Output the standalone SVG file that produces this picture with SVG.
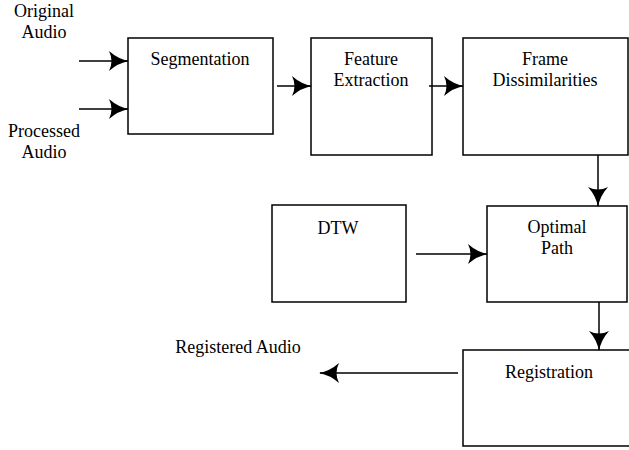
<svg xmlns="http://www.w3.org/2000/svg" width="629" height="450" viewBox="0 0 629 450">
<style>
.box{fill:#fff;stroke:#000;stroke-width:1.5}
.t{font-family:'Liberation Serif','Times New Roman',Tinos,'DejaVu Serif',serif;font-size:18px;fill:#000;text-anchor:middle}
.c{stroke:#000;stroke-width:1.5;fill:none;marker-end:url(#ah)}
</style>
<defs>
<marker id="ah" viewBox="0 0 20 20" refX="19" refY="10" markerWidth="20" markerHeight="20" markerUnits="userSpaceOnUse" orient="auto">
<path d="M0,0 Q9,8 20,10 Q9,12 0,20 Q5,10 0,0 Z" fill="#000"/>
</marker>
</defs>
<rect width="629" height="450" fill="#fff"/>
<g id="labels" font-family="Liberation Serif, serif">
<text class="t" x="44" y="17">Original</text>
<text class="t" x="44" y="38">Audio</text>
<text class="t" x="44" y="137">Processed</text>
<text class="t" x="44" y="158">Audio</text>
<text class="t" x="238" y="353">Registered Audio</text>
</g>
<g id="segmentation">
<rect class="box" x="128" y="38" width="145" height="96"/>
<text class="t" x="200" y="65">Segmentation</text>
</g>
<g id="feature">
<rect class="box" x="311" y="38" width="121" height="117"/>
<text class="t" x="371" y="65">Feature</text>
<text class="t" x="371" y="86">Extraction</text>
</g>
<g id="frame">
<rect class="box" x="463" y="38" width="165" height="117"/>
<text class="t" x="545" y="65">Frame</text>
<text class="t" x="545" y="86">Dissimilarities</text>
</g>
<g id="dtw">
<rect class="box" x="272" y="205" width="134" height="97"/>
<text class="t" x="338" y="234">DTW</text>
</g>
<g id="optimal">
<rect class="box" x="487" y="206" width="140" height="96"/>
<text class="t" x="557" y="233">Optimal</text>
<text class="t" x="557" y="254">Path</text>
</g>
<g id="registration">
<path class="box" d="M640,350 H463 V446 H640"/>
<text class="t" x="549" y="378">Registration</text>
</g>
<g id="connectors">
<line class="c" x1="79" y1="61" x2="128" y2="61"/>
<line class="c" x1="79" y1="109" x2="128" y2="109"/>
<line class="c" x1="277" y1="86" x2="311" y2="86"/>
<line class="c" x1="429" y1="86" x2="463" y2="86"/>
<line class="c" x1="598" y1="155" x2="598" y2="206"/>
<line class="c" x1="416" y1="254" x2="487" y2="254"/>
<line class="c" x1="599" y1="302" x2="599" y2="350"/>
<line class="c" x1="458" y1="373" x2="320" y2="373"/>
</g>
</svg>
